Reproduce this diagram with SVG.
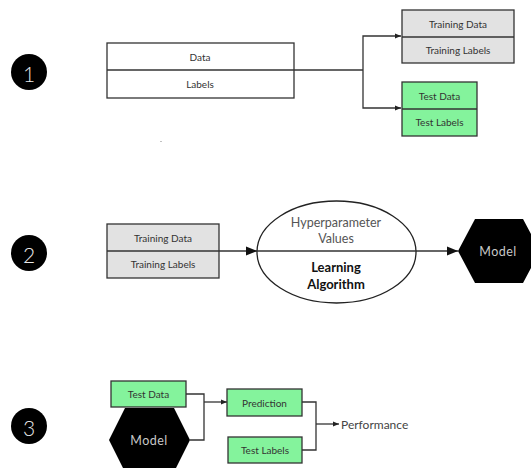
<svg xmlns="http://www.w3.org/2000/svg" width="531" height="468" viewBox="0 0 531 468">
  <defs>
    <marker id="arrowSmall" viewBox="0 0 10 10" refX="10" refY="5" markerWidth="6" markerHeight="6" markerUnits="userSpaceOnUse" orient="auto">
      <path d="M0,1 L10,5 L0,9 z" fill="#222"/>
    </marker>
    <marker id="arrowLarge" viewBox="0 0 10 10" refX="10" refY="5" markerWidth="11" markerHeight="11" markerUnits="userSpaceOnUse" orient="auto">
      <path d="M0,1 L10,5 L0,9 z" fill="#111"/>
    </marker>
  </defs>
  <style>
    text { font-family: Lato, "Open Sans", "Liberation Sans", sans-serif; text-anchor: middle; dominant-baseline: central; }
    .box { stroke: #333; stroke-width: 1.3; }
    .plain { fill: #ffffff; }
    .grey { fill: #e2e2e2; }
    .green { fill: #84f39c; }
    .divider { stroke: #333; stroke-width: 1.3; fill: none; }
    .lbl { font-size: 10px; fill: #333; }
    .wire { stroke: #333; stroke-width: 1.3; fill: none; }
    .step { fill: #000; }
    .stepnum { font-size: 21px; fill: #e8e8e8; font-weight: 300; }
    .hex { fill: #000; }
    .hexlbl { font-size: 12.5px; fill: #c8c8c8; letter-spacing: 0.5px; }
  </style>
  <rect width="531" height="468" fill="#ffffff"/>

  <!-- step badges -->
  <g id="step1"><circle class="step" cx="29" cy="72" r="18"/><text class="stepnum" x="29" y="73">1</text></g>
  <g id="step2"><circle class="step" cx="29" cy="253" r="18"/><text class="stepnum" x="29" y="254">2</text></g>
  <g id="step3"><circle class="step" cx="29" cy="426" r="18"/><text class="stepnum" x="29" y="427">3</text></g>

  <!-- connectors -->
  <g id="connectors">
    <!-- split of the full data set -->
    <path class="wire" d="M294,70 H363"/>
    <path class="wire" d="M363,70 V36 H401" marker-end="url(#arrowSmall)"/>
    <path class="wire" d="M363,70 V108 H401" marker-end="url(#arrowSmall)"/>
    <!-- training -->
    <path class="wire" d="M219,251 H257" marker-end="url(#arrowLarge)"/>
    <path class="wire" d="M257,251 H416"/>
    <path class="wire" d="M416,251 H458" marker-end="url(#arrowLarge)"/>
    <!-- evaluation -->
    <path class="wire" d="M186,394 H204 V440 H190"/>
    <path class="wire" d="M204,402 H227" marker-end="url(#arrowSmall)"/>
    <path class="wire" d="M302,402 H316 V450 H302"/>
    <path class="wire" d="M316,424 H339" marker-end="url(#arrowSmall)"/>
  </g>

  <!-- section 1 -->
  <g id="dataset">
    <rect class="box plain" x="107" y="43" width="187" height="55"/>
    <line class="divider" x1="107" y1="70" x2="294" y2="70"/>
    <text class="lbl" x="200" y="57">Data</text>
    <text class="lbl" x="200" y="84">Labels</text>
  </g>
  <g id="training-set-1">
    <rect class="box grey" x="402" y="10" width="112" height="53"/>
    <line class="divider" x1="402" y1="37" x2="514" y2="37"/>
    <text class="lbl" x="458" y="23.5">Training Data</text>
    <text class="lbl" x="458" y="49.5">Training Labels</text>
  </g>
  <g id="test-set-1">
    <rect class="box green" x="402" y="82" width="75" height="54"/>
    <line class="divider" x1="402" y1="109" x2="477" y2="109"/>
    <text class="lbl" x="439.5" y="95.5">Test Data</text>
    <text class="lbl" x="439.5" y="122">Test Labels</text>
  </g>
  <circle cx="161" cy="141.5" r="0.6" fill="#777"/>

  <!-- section 2 -->
  <g id="training-set-2">
    <rect class="box grey" x="107" y="224" width="112" height="54"/>
    <line class="divider" x1="107" y1="251" x2="219" y2="251"/>
    <text class="lbl" x="163" y="238">Training Data</text>
    <text class="lbl" x="163" y="264">Training Labels</text>
  </g>
  <g id="learning-algorithm">
    <ellipse cx="336.5" cy="252" rx="79.5" ry="51" fill="#ffffff" stroke="#222" stroke-width="1.3"/>
    <line class="divider" x1="257" y1="251" x2="416" y2="251"/>
    <text x="336" y="222" style="font-size:12.5px; fill:#555;">Hyperparameter</text>
    <text x="336" y="238" style="font-size:12.5px; fill:#555;">Values</text>
    <text x="336" y="267" style="font-size:13px; font-weight:bold; fill:#111;">Learning</text>
    <text x="336" y="284" style="font-size:13px; font-weight:bold; fill:#111;">Algorithm</text>
  </g>
  <g id="model-2">
    <polygon class="hex" points="458,251 475,219 523,219 540,251 523,283 475,283"/>
    <text class="hexlbl" x="498" y="251">Model</text>
  </g>

  <!-- section 3 -->
  <g id="model-3">
    <polygon class="hex" points="109,440 125,408 174,408 190,440 174,472 125,472"/>
    <text class="hexlbl" x="149" y="440">Model</text>
  </g>
  <g id="test-data-3">
    <rect class="box green" x="111" y="381" width="75" height="26"/>
    <text class="lbl" x="148.5" y="394">Test Data</text>
  </g>
  <g id="prediction">
    <rect class="box green" x="227" y="389" width="75" height="27"/>
    <text class="lbl" x="264.5" y="402.5">Prediction</text>
  </g>
  <g id="test-labels-3">
    <rect class="box green" x="228" y="437" width="74" height="26"/>
    <text class="lbl" x="265" y="450">Test Labels</text>
  </g>
  <g id="performance">
    <text x="341" y="424" style="font-size:12px; fill:#444; text-anchor:start;">Performance</text>
  </g>
</svg>
